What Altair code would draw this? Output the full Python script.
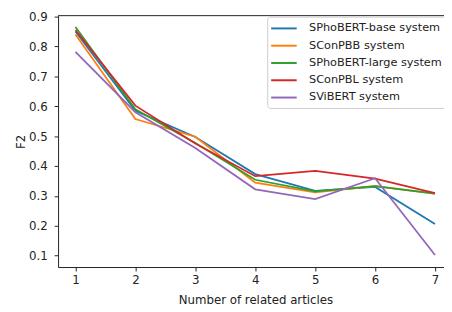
import altair as alt
import pandas as pd

x_values = [1, 2, 3, 4, 5, 6, 7]
series_names = ["SPhoBERT-base system", "SConPBB system", "SPhoBERT-large system",
                "SConPBL system", "SViBERT system"]
sphobert_base = [0.850, 0.585, 0.497, 0.373, 0.317, 0.330, 0.206]
sconpbb = [0.840, 0.557, 0.498, 0.344, 0.312, 0.333, 0.308]
sphobert_large = [0.865, 0.590, 0.477, 0.354, 0.315, 0.333, 0.308]
sconpbl = [0.855, 0.602, 0.475, 0.366, 0.384, 0.358, 0.309]
svibert = [0.782, 0.580, 0.460, 0.322, 0.289, 0.359, 0.102]
colors = ["#1f77b4", "#ff7f0e", "#2ca02c", "#d62728", "#9467bd"]

all_series = [sphobert_base, sconpbb, sphobert_large, sconpbl, svibert]
rows = []
for name, vals in zip(series_names, all_series):
    for xv, yv in zip(x_values, vals):
        rows.append({"n": xv, "F2": yv, "system": name})
df = pd.DataFrame(rows)

W, H = 393, 256
FONT = "DejaVu Sans"
FS = 12

lines = alt.Chart(df).mark_line(strokeWidth=1.8).encode(
    x=alt.X("n:Q", title="Number of related articles",
            scale=alt.Scale(domain=[0.71, 7.15], nice=False, zero=False),
            axis=alt.Axis(values=x_values, format="d", grid=False, titleX=201,
                          labelPadding=4, titlePadding=9)),
    y=alt.Y("F2:Q", title="F2",
            scale=alt.Scale(domain=[0.062, 0.903], nice=False, zero=False),
            axis=alt.Axis(values=[0.1, 0.2, 0.3, 0.4, 0.5, 0.6, 0.7, 0.8, 0.9],
                          format=".1f", grid=False, labelPadding=7,
                          titleX=-31, titleY=H / 2)),
    color=alt.Color("system:N", sort=series_names,
                    scale=alt.Scale(domain=series_names, range=colors),
                    legend=alt.Legend(title=None, orient="none", legendX=213, legendY=1)),
    order=alt.Order("n:Q"),
)

top = alt.Chart(pd.DataFrame({"v": [0]})).mark_rule(color="#222", strokeWidth=1).encode(
    y=alt.value(0), x=alt.value(0), x2=alt.value(W)
)

chart = alt.layer(lines, top).properties(
    width=W, height=H,
    autosize=alt.AutoSizeParams(type="none"),
    padding={"left": 51, "top": 5, "right": 0, "bottom": 43},
).configure_view(stroke=None).configure_axis(
    labelFont=FONT, titleFont=FONT, labelFontSize=FS, titleFontSize=FS,
    labelColor="#222", titleColor="#222", titleFontWeight="normal",
    domainColor="#222", tickColor="#222", tickSize=4,
).configure_legend(
    labelFont=FONT, labelFontSize=11.5, labelColor="#222",
    symbolType="M-2,0H2", symbolSize=169, symbolStrokeWidth=2,
    symbolOffset=5, labelOffset=18, padding=4.5, rowPadding=4.6,
    strokeColor="#cccccc", fillColor="white", cornerRadius=3,
)

chart.save("out.html", embed_options={"renderer": "svg", "actions": False})
